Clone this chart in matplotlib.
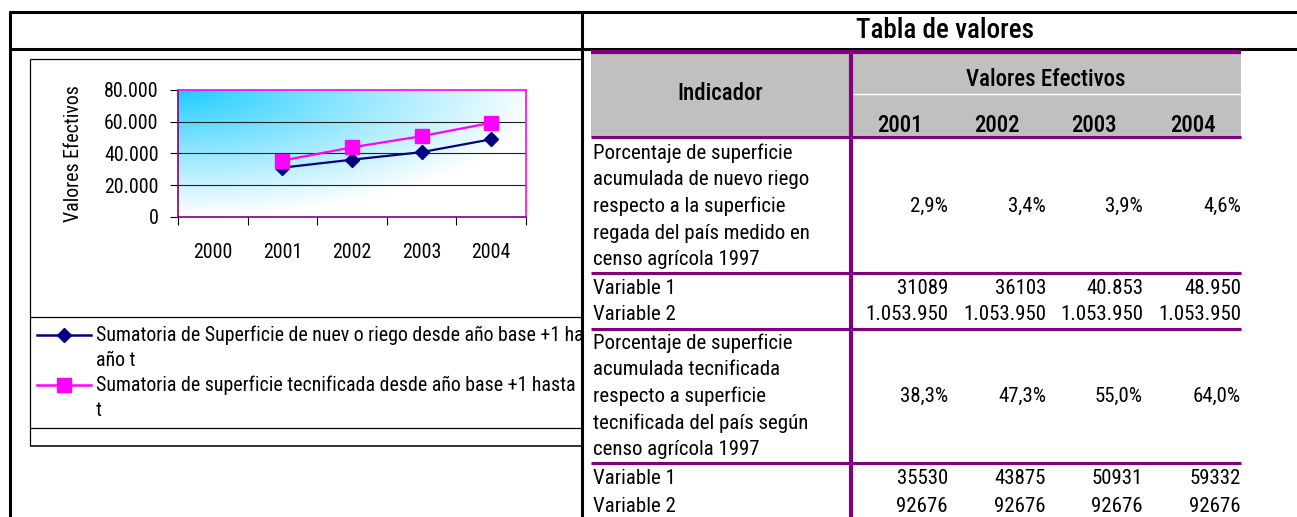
import numpy as np
import matplotlib
matplotlib.use('Agg')
import matplotlib.pyplot as plt
from matplotlib.lines import Line2D
from matplotlib.patches import Rectangle
from matplotlib.transforms import Bbox, TransformedBbox

plt.rcParams['font.family'] = ['Roboto Condensed', 'DejaVu Sans']

# data
chart_years = ['2000', '2001', '2002', '2003', '2004']
years = ['2001', '2002', '2003', '2004']
riego_pct = ['2,9%', '3,4%', '3,9%', '4,6%']
riego_var1 = [31089, 36103, 40853, 48950]
riego_var1_lbl = ['31089', '36103', '40.853', '48.950']
riego_var2_lbl = ['1.053.950', '1.053.950', '1.053.950', '1.053.950']
tecn_pct = ['38,3%', '47,3%', '55,0%', '64,0%']
tecn_var1 = [35530, 43875, 50931, 59332]
tecn_var1_lbl = ['35530', '43875', '50931', '59332']
tecn_var2_lbl = ['92676', '92676', '92676', '92676']

riego_text = ['Porcentaje de superficie', 'acumulada de nuevo riego',
              'respecto a la superficie', 'regada del país medido en',
              'censo agrícola 1997']
tecn_text = ['Porcentaje de superficie', 'acumulada tecnificada',
             'respecto a superficie', 'tecnificada del país según',
             'censo agrícola 1997']
legend_lines = [
    ('Sumatoria de Superficie de nuev o riego desde año base +1 hasta', 'año t'),
    ('Sumatoria de superficie tecnificada desde año base +1 hasta año', 't'),
]

W, H = 1297, 517
PURPLE = '#800080'
NAVY = '#000080'
MAGENTA = '#FF00FF'
FS = 15      # table body
FSH = 16.5   # table headers

fig = plt.figure(figsize=(W / 100, H / 100), dpi=100)
bg = fig.add_axes([0, 0, 1, 1])
bg.set_xlim(0, W)
bg.set_ylim(H, 0)
bg.axis('off')

def hline(y, x0, x1, color='black', lw=1.0, z=3):
    bg.plot([x0, x1], [y, y], color=color, lw=lw, solid_capstyle='butt', zorder=z)

def vline(x, y0, y1, color='black', lw=1.0, z=3):
    bg.plot([x, x], [y0, y1], color=color, lw=lw, solid_capstyle='butt', zorder=z)

# outer frame
hline(12, 9, W, lw=2.2)
hline(49, 9, W, lw=2.2)
vline(10, 11, H, lw=2.2)
vline(582, 11, H, lw=2.2, z=6)
bg.text(945, 31, 'Tabla de valores', ha='center', va='center', fontsize=19.5, fontweight='medium')

# chart area box (cut by table)
hline(59, 30, 582, lw=0.9)
vline(30, 59, 446, lw=0.9)
hline(317, 30, 582, lw=0.9)
hline(428, 30, 582, lw=0.9)
hline(446, 30, 582, color='#333333', lw=1.4)

# legend, text cut at the table edge
clip = TransformedBbox(Bbox([[30, 300], [581, 440]]), bg.transData)
leg_y = [335, 385]
for (l1, l2), col, mk, ms, y in zip(legend_lines, [NAVY, MAGENTA], ['D', 's'], [7, 10], leg_y):
    bg.add_line(Line2D([37, 91], [y, y], color=col, lw=1.8))
    bg.add_line(Line2D([64], [y], color=col, marker=mk, markersize=ms, markeredgecolor=col))
    for txt, yy in [(l1, y), (l2, y + 26)]:
        t = bg.text(96, yy, txt, ha='left', va='center', fontsize=14.3)
        t.set_clip_box(clip)
        t.set_clip_on(True)

# table
bg.add_patch(Rectangle((591, 52), 650, 85, facecolor='#C0C0C0', edgecolor='none', zorder=1))
hline(52, 591, 1241, color=PURPLE, lw=3)
hline(94, 851, 1241, color='white', lw=1)
hline(137, 591, 1241, color=PURPLE, lw=2.2)
vline(851, 51, H, color=PURPLE, lw=3)
for y in [273, 329, 463]:
    hline(y, 591, 1241, color=PURPLE, lw=2.2)

bg.text(720, 93, 'Indicador', ha='center', va='center', fontsize=FSH, fontweight='medium')
bg.text(1046, 80, 'Valores Efectivos', ha='center', va='center', fontsize=FSH, fontweight='medium')
col_right = [948, 1046, 1143, 1241]
col_center = [900, 997, 1094, 1193]
for yr, xc in zip(years, col_center):
    bg.text(xc, 125, yr, ha='center', va='center', fontsize=FSH, fontweight='medium')

def block(lines, pct, v1, v2, y0, yv1):
    for i, s in enumerate(lines):
        bg.text(593, y0 + i * 26.7, s, ha='left', va='center', fontsize=FS)
    ymid = y0 + 2 * 26.7
    for xr, p, a, b in zip(col_right, pct, v1, v2):
        bg.text(xr, ymid, p, ha='right', va='center', fontsize=FS)
        bg.text(xr, yv1, a, ha='right', va='center', fontsize=FS)
        bg.text(xr, yv1 + 27, b, ha='right', va='center', fontsize=FS)
    bg.text(593, yv1, 'Variable 1', ha='left', va='center', fontsize=FS)
    bg.text(593, yv1 + 27, 'Variable 2', ha='left', va='center', fontsize=FS)

block(riego_text, riego_pct, riego_var1_lbl, riego_var2_lbl, 153, 288)
block(tecn_text, tecn_pct, tecn_var1_lbl, tecn_var2_lbl, 343, 479)

# chart
ax = fig.add_axes([178 / W, 1 - 217 / H, 348 / W, 127 / H])
ax.set_xlim(0, 5)

# gradient background, cyan in the top-left corner fading to white
u, v = np.meshgrid(np.linspace(0, 1, 200), np.linspace(0, 1, 80))
t = np.clip(np.sqrt((u / 1.05) ** 2 + (v / 1.0) ** 2), 0, 1) ** 0.9
cyan = np.array([0.10, 0.80, 1.0])
img = cyan[None, None, :] * (1 - t[..., None]) + np.ones(3)[None, None, :] * t[..., None]
ax.imshow(img, extent=[0, 5, 0, 80000], aspect='auto', zorder=0, origin='upper')
ax.set_ylim(0, 80000)

for yv in [20000, 40000, 60000]:
    ax.axhline(yv, color='#222222', lw=0.8, zorder=1)

x = np.arange(1, 5) + 0.5
ax.plot(x, riego_var1, color=NAVY, lw=1.6, marker='D', markersize=7, zorder=3)
ax.plot(x, tecn_var1, color=MAGENTA, lw=1.6, marker='s', markersize=10, zorder=3)

ax.set_xticks(np.arange(6))
ax.set_xticklabels([])
ax.set_xticks(np.arange(5) + 0.5, minor=True)
ax.set_xticklabels(chart_years, minor=True, fontsize=14.3)
ax.tick_params(axis='x', which='major', length=6, direction='out', color='black')
ax.tick_params(axis='x', which='minor', length=0, pad=19)
ax.set_yticks([0, 20000, 40000, 60000, 80000])
ax.set_yticklabels(['0', '20.000', '40.000', '60.000', '80.000'], fontsize=14.3)
ax.tick_params(axis='y', length=6, direction='out', pad=8)
ax.spines['top'].set_color(MAGENTA)
ax.spines['right'].set_color(MAGENTA)
ax.spines['left'].set_color(PURPLE)
ax.spines['bottom'].set_color(PURPLE)
for s in ax.spines.values():
    s.set_linewidth(1.2)
ax.set_ylabel('Valores Efectivos', fontsize=14.3, labelpad=15)

fig.savefig('out.png', dpi=100)
